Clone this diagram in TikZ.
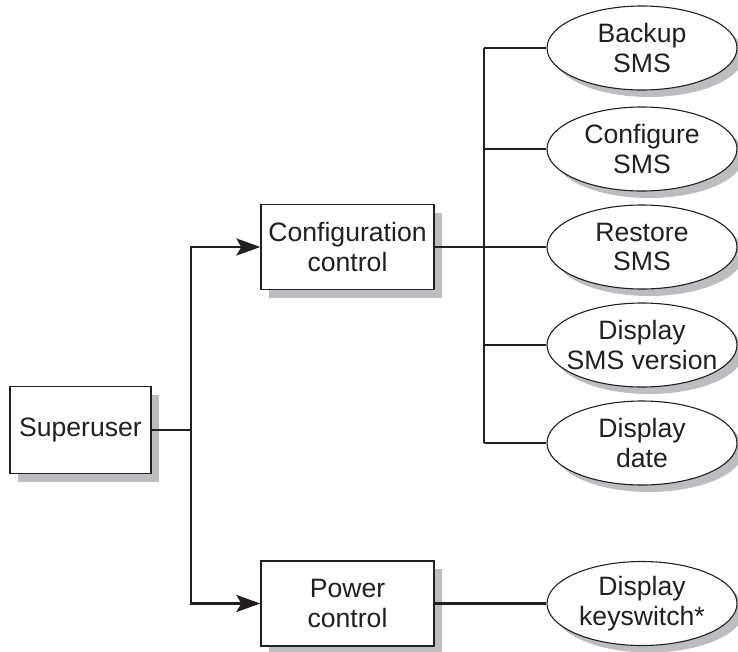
\documentclass[tikz,border=0pt]{standalone}
\usepackage{fontspec}
\setmainfont{Liberation Sans}
\usetikzlibrary{arrows.meta,shapes.geometric,shadows}
\definecolor{ink}{HTML}{231F20}
\definecolor{shade}{HTML}{BCBDC0}
\tikzset{
  txt/.style={font=\fontsize{26.6}{29.5}\selectfont, text=ink, align=center},
  boxnode/.style={draw=ink, line width=1.3pt, fill=white, inner sep=0pt,
    minimum width=173pt, minimum height=85pt, txt,
    drop shadow={shadow xshift=8pt, shadow yshift=-8pt, fill=shade, opacity=1}},
  ellnode/.style={ellipse, draw=ink, line width=1.1pt, fill=white, inner sep=0pt,
    minimum width=190pt, minimum height=84pt,
    drop shadow={shadow xshift=7pt, shadow yshift=-7pt, fill=shade, opacity=1}},
  conn/.style={draw=ink, line width=2.8pt},
  arr/.style={conn, -{Stealth[length=24pt, width=17pt, inset=5pt]}},
}
\begin{document}
\begin{tikzpicture}[x=1pt, y=-1pt]
\useasboundingbox (0,0) rectangle (738,651);
% boxes
\node[boxnode, minimum width=141pt, minimum height=87pt] (su) at (80.5,430) {Superuser};
\node[boxnode] (cc) at (347.5,247) {Configuration\\control};
\node[boxnode] (pc) at (347.5,603.5) {Power\\control};
% ellipses
\node[ellnode, label={[txt]center:Backup\\SMS}] (e1) at (642,48) {};
\node[ellnode, label={[txt]center:Configure\\SMS}] (e2) at (642,149) {};
\node[ellnode, label={[txt]center:Restore\\SMS}] (e3) at (642,247) {};
\node[ellnode, label={[txt]center:Display\\SMS version}] (e4) at (642,345) {};
\node[ellnode, label={[txt]center:Display\\date}] (e5) at (642,443) {};
\node[ellnode, label={[txt]center:Display\\keyswitch*}] (e6) at (642,603.5) {};
% bus coordinates
\coordinate (lbus) at (191,0);
\coordinate (rbus) at (484,0);
% left connectors
\draw[conn] (su.east) -- (su.east -| lbus);
\draw[arr] (su.east -| lbus) |- (cc.west);
\draw[arr] (su.east -| lbus) |- (pc.west);
% right connectors
\draw[conn] (cc.east) -- (cc.east -| rbus);
\draw[conn] (e1.west -| rbus) -- (e5.west -| rbus);
\draw[conn] (e1.west -| rbus) -- (e1.west);
\draw[conn] (e2.west -| rbus) -- (e2.west);
\draw[conn] (e3.west -| rbus) -- (e3.west);
\draw[conn] (e4.west -| rbus) -- (e4.west);
\draw[conn] (e5.west -| rbus) -- (e5.west);
\draw[conn] (pc.east) -- (e6.west);
\end{tikzpicture}
\end{document}
